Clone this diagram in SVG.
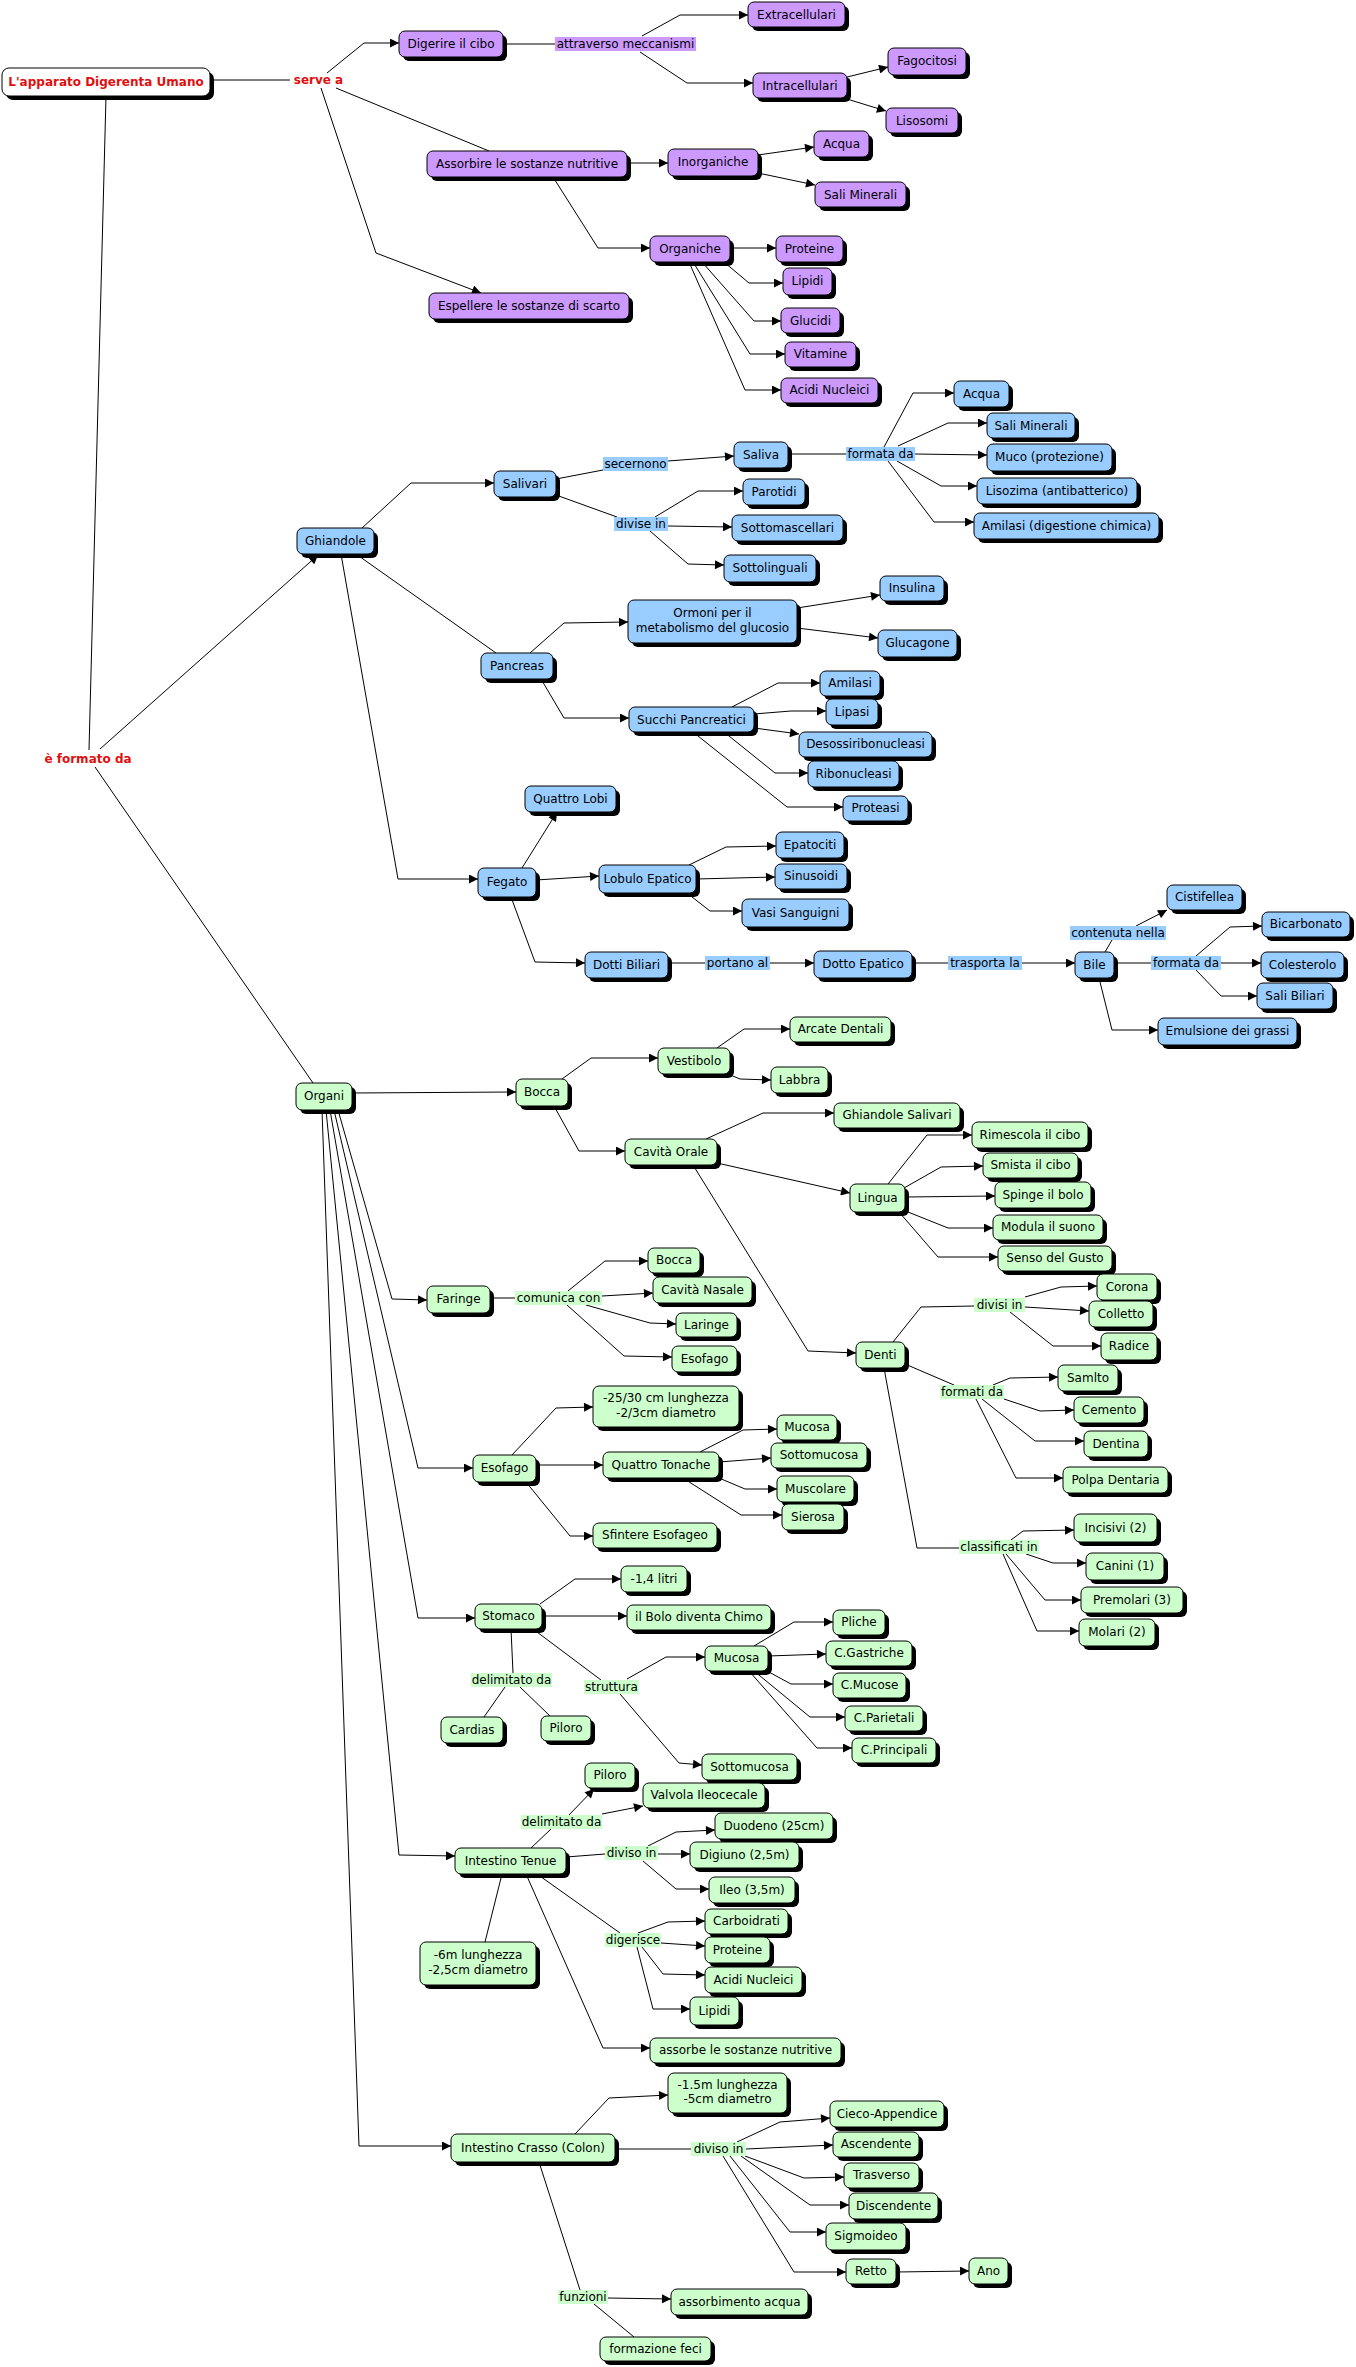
<svg xmlns="http://www.w3.org/2000/svg" width="1356" height="2367" viewBox="0 0 1356 2367">
<style>
text{font-family:"DejaVu Sans",Verdana,sans-serif;font-size:12px;text-anchor:middle;fill:#000}
.sh{fill:#000}
.w{fill:#fff;stroke:#000;stroke-width:1}
.p{fill:#CC99FF;stroke:#000;stroke-width:1}
.b{fill:#99CCFF;stroke:#000;stroke-width:1}
.g{fill:#CCFFCC;stroke:#000;stroke-width:1}
.lp{fill:#CC99FF}
.lb{fill:#99CCFF}
.lg{fill:#CCFFCC}
.red{fill:#E01010;font-weight:bold}
#connectors polyline{fill:none;stroke:#000;stroke-width:1}
#connectors .a{marker-end:url(#ar)}
</style>
<defs>
<marker id="ar" markerUnits="userSpaceOnUse" viewBox="0 0 10 10" markerWidth="10" markerHeight="9" refX="10" refY="5" orient="auto"><path d="M0,0 L10,5 L0,10 z" fill="#000"/></marker>
</defs>
<rect width="1356" height="2367" fill="#fff"/>
<g id="connectors">
<polyline points="214,80 290,80"/>
<polyline class="a" points="327,73 364,43 399,43"/>
<polyline points="336,88 489,151"/>
<polyline class="a" points="321,88 376,253 481,293"/>
<polyline points="503,44 555,44"/>
<polyline class="a" points="642,36 680,15 748,15"/>
<polyline class="a" points="640,52 687,83 753,83"/>
<polyline class="a" points="847,77 888,67"/>
<polyline class="a" points="847,99 886,111"/>
<polyline class="a" points="627,163 668,163"/>
<polyline class="a" points="553,177 598,248 650,248"/>
<polyline class="a" points="758,155 814,147"/>
<polyline class="a" points="758,173 815,185"/>
<polyline class="a" points="730,248 776,248"/>
<polyline class="a" points="724,262 749,283 783,283"/>
<polyline class="a" points="702,262 754,321 781,321"/>
<polyline class="a" points="693,262 750,354 785,354"/>
<polyline class="a" points="689,262 745,390 781,390"/>
<polyline points="106,96 89,750"/>
<polyline class="a" points="100,749 318,555"/>
<polyline points="95,767 313,1083"/>
<polyline class="a" points="362,528 411,483 494,483"/>
<polyline points="556,479 603,470"/>
<polyline class="a" points="668,461 734,456"/>
<polyline points="556,495 617,517"/>
<polyline class="a" points="655,517 698,491 743,491"/>
<polyline class="a" points="668,526 732,527"/>
<polyline class="a" points="650,531 688,564 724,565"/>
<polyline points="788,454 846,454"/>
<polyline class="a" points="884,447 913,393 954,393"/>
<polyline class="a" points="898,446 948,423 987,423"/>
<polyline class="a" points="915,454 987,455"/>
<polyline class="a" points="897,461 941,486 977,486"/>
<polyline class="a" points="888,461 934,522 974,522"/>
<polyline points="356,554 496,653"/>
<polyline class="a" points="530,653 564,623 628,622"/>
<polyline class="a" points="541,679 564,718 629,718"/>
<polyline class="a" points="797,608 880,595"/>
<polyline class="a" points="797,628 878,638"/>
<polyline class="a" points="732,707 778,683 820,683"/>
<polyline class="a" points="754,714 791,711 826,711"/>
<polyline class="a" points="754,728 799,734"/>
<polyline class="a" points="724,732 775,773 808,773"/>
<polyline class="a" points="693,732 787,807 843,807"/>
<polyline class="a" points="341,554 398,879 478,879"/>
<polyline class="a" points="522,868 557,812"/>
<polyline class="a" points="536,880 599,876"/>
<polyline class="a" points="511,897 535,962 585,963"/>
<polyline class="a" points="689,865 726,847 776,846"/>
<polyline class="a" points="696,879 775,877"/>
<polyline class="a" points="687,893 710,911 742,911"/>
<polyline points="668,963 705,963"/>
<polyline class="a" points="770,963 814,963"/>
<polyline points="912,963 948,963"/>
<polyline class="a" points="1022,963 1075,963"/>
<polyline points="1105,952 1112,940"/>
<polyline class="a" points="1136,926 1167,910"/>
<polyline points="1114,963 1151,963"/>
<polyline class="a" points="1221,963 1261,963"/>
<polyline class="a" points="1196,956 1230,927 1262,926"/>
<polyline class="a" points="1196,970 1221,996 1257,996"/>
<polyline class="a" points="1099,978 1112,1030 1158,1030"/>
<polyline class="a" points="352,1093 516,1092"/>
<polyline class="a" points="562,1079 591,1058 658,1058"/>
<polyline class="a" points="554,1106 579,1151 625,1151"/>
<polyline class="a" points="717,1048 744,1029 790,1029"/>
<polyline class="a" points="728,1074 740,1079 771,1080"/>
<polyline class="a" points="706,1139 763,1113 834,1113"/>
<polyline class="a" points="717,1163 850,1193"/>
<polyline class="a" points="888,1184 927,1135 972,1135"/>
<polyline class="a" points="904,1188 941,1167 983,1166"/>
<polyline class="a" points="905,1197 995,1196"/>
<polyline class="a" points="908,1212 948,1228 993,1228"/>
<polyline class="a" points="899,1212 938,1257 998,1257"/>
<polyline class="a" points="693,1165 808,1351 856,1353"/>
<polyline points="893,1342 921,1307 974,1306"/>
<polyline class="a" points="1025,1297 1061,1287 1097,1286"/>
<polyline class="a" points="1025,1307 1089,1311"/>
<polyline class="a" points="1010,1312 1053,1346 1101,1346"/>
<polyline points="905,1364 954,1385"/>
<polyline class="a" points="993,1385 1010,1378 1058,1377"/>
<polyline class="a" points="1004,1399 1040,1411 1074,1410"/>
<polyline class="a" points="982,1399 1035,1441 1084,1441"/>
<polyline class="a" points="976,1399 1016,1478 1063,1478"/>
<polyline points="884,1368 917,1548 959,1548"/>
<polyline class="a" points="1011,1540 1023,1531 1074,1530"/>
<polyline class="a" points="1026,1554 1053,1563 1086,1563"/>
<polyline class="a" points="1006,1554 1045,1600 1081,1600"/>
<polyline class="a" points="1003,1554 1037,1631 1079,1631"/>
<polyline class="a" points="338,1110 392,1299 427,1300"/>
<polyline points="490,1298 515,1298"/>
<polyline class="a" points="568,1291 605,1261 648,1261"/>
<polyline class="a" points="602,1296 653,1293"/>
<polyline class="a" points="586,1305 650,1323 676,1324"/>
<polyline class="a" points="567,1305 624,1356 672,1357"/>
<polyline class="a" points="334,1110 418,1468 473,1468"/>
<polyline class="a" points="512,1455 556,1408 593,1407"/>
<polyline class="a" points="536,1465 603,1465"/>
<polyline class="a" points="526,1482 570,1536 593,1536"/>
<polyline class="a" points="700,1452 743,1430 777,1429"/>
<polyline class="a" points="719,1462 771,1458"/>
<polyline class="a" points="719,1478 745,1489 777,1489"/>
<polyline class="a" points="683,1478 741,1515 782,1515"/>
<polyline class="a" points="330,1110 418,1618 475,1618"/>
<polyline class="a" points="540,1604 575,1579 621,1579"/>
<polyline class="a" points="542,1616 627,1616"/>
<polyline points="511,1629 513,1673"/>
<polyline points="505,1687 484,1717"/>
<polyline points="520,1687 550,1716"/>
<polyline points="533,1629 601,1680"/>
<polyline class="a" points="627,1679 666,1657 705,1657"/>
<polyline class="a" points="620,1694 679,1763 702,1765"/>
<polyline class="a" points="754,1646 794,1622 833,1622"/>
<polyline class="a" points="768,1656 826,1654"/>
<polyline class="a" points="767,1671 791,1684 833,1684"/>
<polyline class="a" points="754,1671 810,1717 845,1717"/>
<polyline class="a" points="749,1671 817,1748 852,1748"/>
<polyline class="a" points="326,1110 399,1855 455,1856"/>
<polyline points="531,1848 551,1829"/>
<polyline class="a" points="569,1815 594,1789"/>
<polyline class="a" points="602,1814 643,1806"/>
<polyline points="566,1857 605,1854"/>
<polyline class="a" points="648,1846 676,1832 715,1830"/>
<polyline class="a" points="658,1854 690,1854"/>
<polyline class="a" points="643,1861 676,1889 709,1889"/>
<polyline points="502,1874 485,1942"/>
<polyline points="537,1874 620,1933"/>
<polyline class="a" points="638,1933 668,1922 705,1921"/>
<polyline class="a" points="661,1943 705,1946"/>
<polyline class="a" points="642,1947 663,1974 705,1975"/>
<polyline class="a" points="637,1947 653,2009 690,2009"/>
<polyline class="a" points="526,1874 603,2048 650,2048"/>
<polyline class="a" points="322,1110 359,2146 451,2146"/>
<polyline class="a" points="575,2134 609,2098 668,2095"/>
<polyline points="615,2149 691,2149"/>
<polyline class="a" points="737,2142 780,2122 830,2118"/>
<polyline class="a" points="746,2149 833,2145"/>
<polyline class="a" points="745,2156 804,2178 844,2177"/>
<polyline class="a" points="741,2156 810,2205 849,2205"/>
<polyline class="a" points="730,2156 790,2232 826,2232"/>
<polyline class="a" points="723,2156 794,2272 846,2272"/>
<polyline class="a" points="896,2272 969,2271"/>
<polyline points="539,2162 580,2290"/>
<polyline class="a" points="608,2298 671,2299"/>
<polyline points="594,2304 634,2337"/>
</g>
<g id="labels">
<text class="red" x="318.5" y="84">serve a</text>
<text class="red" x="88" y="763">è formato da</text>
<g id="l-attraverso"><rect class="lp" x="555" y="37" width="141" height="14"/><text x="625.5" y="48">attraverso meccanismi</text></g>
<g id="l-secernono"><rect class="lb" x="603" y="457" width="65" height="14"/><text x="635.5" y="468">secernono</text></g>
<g id="l-divise"><rect class="lb" x="614" y="517" width="54" height="14"/><text x="641" y="528">divise in</text></g>
<g id="l-formata1"><rect class="lb" x="846" y="447" width="69" height="14"/><text x="880.5" y="458">formata da</text></g>
<g id="l-portano"><rect class="lb" x="705" y="956" width="65" height="14"/><text x="737.5" y="967">portano al</text></g>
<g id="l-trasporta"><rect class="lb" x="948" y="956" width="74" height="14"/><text x="985" y="967">trasporta la</text></g>
<g id="l-contenuta"><rect class="lb" x="1070" y="926" width="96" height="14"/><text x="1118" y="937">contenuta nella</text></g>
<g id="l-formata2"><rect class="lb" x="1151" y="956" width="70" height="14"/><text x="1186" y="967">formata da</text></g>
<g id="l-comunica"><rect class="lg" x="515" y="1291" width="87" height="14"/><text x="558.5" y="1302">comunica con</text></g>
<g id="l-divisi"><rect class="lg" x="974" y="1298" width="51" height="14"/><text x="999.5" y="1309">divisi in</text></g>
<g id="l-formati"><rect class="lg" x="940" y="1385" width="64" height="14"/><text x="972" y="1396">formati da</text></g>
<g id="l-classificati"><rect class="lg" x="959" y="1540" width="80" height="14"/><text x="999" y="1551">classificati in</text></g>
<g id="l-delimitato1"><rect class="lg" x="471" y="1673" width="81" height="14"/><text x="511.5" y="1684">delimitato da</text></g>
<g id="l-struttura"><rect class="lg" x="584" y="1680" width="55" height="14"/><text x="611.5" y="1691">struttura</text></g>
<g id="l-delimitato2"><rect class="lg" x="521" y="1815" width="81" height="14"/><text x="561.5" y="1826">delimitato da</text></g>
<g id="l-diviso1"><rect class="lg" x="605" y="1846" width="53" height="14"/><text x="631.5" y="1857">diviso in</text></g>
<g id="l-digerisce"><rect class="lg" x="605" y="1933" width="56" height="14"/><text x="633" y="1944">digerisce</text></g>
<g id="l-diviso2"><rect class="lg" x="691" y="2142" width="55" height="14"/><text x="718.5" y="2153">diviso in</text></g>
<g id="l-funzioni"><rect class="lg" x="558" y="2290" width="50" height="14"/><text x="583" y="2301">funzioni</text></g>
</g>
<g id="nodes">
<g id="root"><rect class="sh" x="6" y="72" width="208" height="28" rx="7"/><rect class="w" x="2" y="68" width="208" height="28" rx="7"/><text class="red" x="106" y="86">L'apparato Digerenta Umano</text></g>
<g id="digerire"><rect class="sh" x="403" y="35" width="104" height="26" rx="6"/><rect class="p" x="399" y="31" width="104" height="26" rx="6"/><text x="451" y="48">Digerire il cibo</text></g>
<g id="assorbire"><rect class="sh" x="431" y="155" width="200" height="26" rx="6"/><rect class="p" x="427" y="151" width="200" height="26" rx="6"/><text x="527" y="168">Assorbire le sostanze nutritive</text></g>
<g id="espellere"><rect class="sh" x="433" y="297" width="200" height="26" rx="6"/><rect class="p" x="429" y="293" width="200" height="26" rx="6"/><text x="529" y="310">Espellere le sostanze di scarto</text></g>
<g id="extracellulari"><rect class="sh" x="752" y="6" width="97" height="25" rx="6"/><rect class="p" x="748" y="2" width="97" height="25" rx="6"/><text x="796.5" y="19">Extracellulari</text></g>
<g id="intracellulari"><rect class="sh" x="757" y="77" width="94" height="25" rx="6"/><rect class="p" x="753" y="73" width="94" height="25" rx="6"/><text x="800" y="90">Intracellulari</text></g>
<g id="fagocitosi"><rect class="sh" x="892" y="52" width="78" height="27" rx="6"/><rect class="p" x="888" y="48" width="78" height="27" rx="6"/><text x="927" y="65">Fagocitosi</text></g>
<g id="lisosomi"><rect class="sh" x="890" y="112" width="72" height="25" rx="6"/><rect class="p" x="886" y="108" width="72" height="25" rx="6"/><text x="922" y="125">Lisosomi</text></g>
<g id="inorganiche"><rect class="sh" x="672" y="153" width="90" height="27" rx="6"/><rect class="p" x="668" y="149" width="90" height="27" rx="6"/><text x="713" y="166">Inorganiche</text></g>
<g id="acqua1"><rect class="sh" x="818" y="135" width="55" height="26" rx="6"/><rect class="p" x="814" y="131" width="55" height="26" rx="6"/><text x="841.5" y="148">Acqua</text></g>
<g id="sali1"><rect class="sh" x="819" y="186" width="91" height="25" rx="6"/><rect class="p" x="815" y="182" width="91" height="25" rx="6"/><text x="860.5" y="199">Sali Minerali</text></g>
<g id="organiche"><rect class="sh" x="654" y="240" width="80" height="26" rx="6"/><rect class="p" x="650" y="236" width="80" height="26" rx="6"/><text x="690" y="253">Organiche</text></g>
<g id="proteine1"><rect class="sh" x="780" y="240" width="67" height="26" rx="6"/><rect class="p" x="776" y="236" width="67" height="26" rx="6"/><text x="809.5" y="253">Proteine</text></g>
<g id="lipidi1"><rect class="sh" x="787" y="272" width="49" height="27" rx="6"/><rect class="p" x="783" y="268" width="49" height="27" rx="6"/><text x="807.5" y="285">Lipidi</text></g>
<g id="glucidi"><rect class="sh" x="785" y="312" width="59" height="25" rx="6"/><rect class="p" x="781" y="308" width="59" height="25" rx="6"/><text x="810.5" y="325">Glucidi</text></g>
<g id="vitamine"><rect class="sh" x="789" y="346" width="71" height="25" rx="6"/><rect class="p" x="785" y="342" width="71" height="25" rx="6"/><text x="820.5" y="358">Vitamine</text></g>
<g id="acidi1"><rect class="sh" x="785" y="382" width="97" height="25" rx="6"/><rect class="p" x="781" y="378" width="97" height="25" rx="6"/><text x="829.5" y="394">Acidi Nucleici</text></g>

<g id="ghiandole"><rect class="sh" x="301" y="532" width="77" height="26" rx="6"/><rect class="b" x="297" y="528" width="77" height="26" rx="6"/><text x="335.5" y="545">Ghiandole</text></g>
<g id="salivari"><rect class="sh" x="498" y="475" width="62" height="26" rx="6"/><rect class="b" x="494" y="471" width="62" height="26" rx="6"/><text x="525" y="488">Salivari</text></g>
<g id="saliva"><rect class="sh" x="738" y="446" width="54" height="26" rx="6"/><rect class="b" x="734" y="442" width="54" height="26" rx="6"/><text x="761" y="459">Saliva</text></g>
<g id="acqua2"><rect class="sh" x="958" y="385" width="55" height="26" rx="6"/><rect class="b" x="954" y="381" width="55" height="26" rx="6"/><text x="981.5" y="398">Acqua</text></g>
<g id="sali2"><rect class="sh" x="991" y="417" width="88" height="25" rx="6"/><rect class="b" x="987" y="413" width="88" height="25" rx="6"/><text x="1031" y="430">Sali Minerali</text></g>
<g id="muco"><rect class="sh" x="991" y="448" width="125" height="27" rx="6"/><rect class="b" x="987" y="444" width="125" height="27" rx="6"/><text x="1049.5" y="461">Muco (protezione)</text></g>
<g id="lisozima"><rect class="sh" x="981" y="482" width="160" height="26" rx="6"/><rect class="b" x="977" y="478" width="160" height="26" rx="6"/><text x="1057" y="495">Lisozima (antibatterico)</text></g>
<g id="amilasi1"><rect class="sh" x="978" y="517" width="185" height="26" rx="6"/><rect class="b" x="974" y="513" width="185" height="26" rx="6"/><text x="1066.5" y="530">Amilasi (digestione chimica)</text></g>
<g id="parotidi"><rect class="sh" x="747" y="483" width="62" height="26" rx="6"/><rect class="b" x="743" y="479" width="62" height="26" rx="6"/><text x="774" y="496">Parotidi</text></g>
<g id="sottomascellari"><rect class="sh" x="736" y="519" width="111" height="26" rx="6"/><rect class="b" x="732" y="515" width="111" height="26" rx="6"/><text x="787.5" y="532">Sottomascellari</text></g>
<g id="sottolinguali"><rect class="sh" x="728" y="559" width="92" height="27" rx="6"/><rect class="b" x="724" y="555" width="92" height="27" rx="6"/><text x="770" y="572">Sottolinguali</text></g>
<g id="pancreas"><rect class="sh" x="485" y="657" width="72" height="26" rx="6"/><rect class="b" x="481" y="653" width="72" height="26" rx="6"/><text x="517" y="670">Pancreas</text></g>
<g id="ormoni"><rect class="sh" x="632" y="604" width="169" height="43" rx="6"/><rect class="b" x="628" y="600" width="169" height="43" rx="6"/><text x="712.5" y="617">Ormoni per il</text><text x="712.5" y="632">metabolismo del glucosio</text></g>
<g id="insulina"><rect class="sh" x="884" y="580" width="64" height="25" rx="6"/><rect class="b" x="880" y="576" width="64" height="25" rx="6"/><text x="912" y="592">Insulina</text></g>
<g id="glucagone"><rect class="sh" x="882" y="634" width="79" height="27" rx="6"/><rect class="b" x="878" y="630" width="79" height="27" rx="6"/><text x="917.5" y="647">Glucagone</text></g>
<g id="succhi"><rect class="sh" x="633" y="711" width="125" height="25" rx="6"/><rect class="b" x="629" y="707" width="125" height="25" rx="6"/><text x="691.5" y="724">Succhi Pancreatici</text></g>
<g id="amilasi2"><rect class="sh" x="824" y="675" width="60" height="25" rx="6"/><rect class="b" x="820" y="671" width="60" height="25" rx="6"/><text x="850" y="687">Amilasi</text></g>
<g id="lipasi"><rect class="sh" x="830" y="703" width="52" height="26" rx="6"/><rect class="b" x="826" y="699" width="52" height="26" rx="6"/><text x="852" y="716">Lipasi</text></g>
<g id="desossi"><rect class="sh" x="803" y="736" width="133" height="25" rx="6"/><rect class="b" x="799" y="732" width="133" height="25" rx="6"/><text x="865.5" y="748">Desossiribonucleasi</text></g>
<g id="ribonucleasi"><rect class="sh" x="812" y="765" width="91" height="26" rx="6"/><rect class="b" x="808" y="761" width="91" height="26" rx="6"/><text x="853.5" y="778">Ribonucleasi</text></g>
<g id="proteasi"><rect class="sh" x="847" y="800" width="65" height="25" rx="6"/><rect class="b" x="843" y="796" width="65" height="25" rx="6"/><text x="875.5" y="812">Proteasi</text></g>
<g id="lobi"><rect class="sh" x="529" y="790" width="91" height="26" rx="6"/><rect class="b" x="525" y="786" width="91" height="26" rx="6"/><text x="570.5" y="803">Quattro Lobi</text></g>
<g id="fegato"><rect class="sh" x="482" y="872" width="58" height="29" rx="6"/><rect class="b" x="478" y="868" width="58" height="29" rx="6"/><text x="507" y="886">Fegato</text></g>
<g id="lobulo"><rect class="sh" x="603" y="869" width="97" height="28" rx="6"/><rect class="b" x="599" y="865" width="97" height="28" rx="6"/><text x="647.5" y="883">Lobulo Epatico</text></g>
<g id="epatociti"><rect class="sh" x="780" y="836" width="68" height="26" rx="6"/><rect class="b" x="776" y="832" width="68" height="26" rx="6"/><text x="810" y="849">Epatociti</text></g>
<g id="sinusoidi"><rect class="sh" x="779" y="868" width="72" height="25" rx="6"/><rect class="b" x="775" y="864" width="72" height="25" rx="6"/><text x="811" y="880">Sinusoidi</text></g>
<g id="vasi"><rect class="sh" x="746" y="903" width="107" height="28" rx="6"/><rect class="b" x="742" y="899" width="107" height="28" rx="6"/><text x="795.5" y="917">Vasi Sanguigni</text></g>
<g id="dotti"><rect class="sh" x="589" y="956" width="83" height="26" rx="6"/><rect class="b" x="585" y="952" width="83" height="26" rx="6"/><text x="626.5" y="969">Dotti Biliari</text></g>
<g id="dotto"><rect class="sh" x="818" y="955" width="98" height="27" rx="6"/><rect class="b" x="814" y="951" width="98" height="27" rx="6"/><text x="863" y="968">Dotto Epatico</text></g>
<g id="bile"><rect class="sh" x="1079" y="956" width="39" height="26" rx="6"/><rect class="b" x="1075" y="952" width="39" height="26" rx="6"/><text x="1094.5" y="969">Bile</text></g>
<g id="cistifellea"><rect class="sh" x="1171" y="889" width="75" height="25" rx="6"/><rect class="b" x="1167" y="885" width="75" height="25" rx="6"/><text x="1204.5" y="901">Cistifellea</text></g>
<g id="bicarbonato"><rect class="sh" x="1266" y="916" width="88" height="25" rx="6"/><rect class="b" x="1262" y="912" width="88" height="25" rx="6"/><text x="1306" y="928">Bicarbonato</text></g>
<g id="colesterolo"><rect class="sh" x="1265" y="956" width="83" height="26" rx="6"/><rect class="b" x="1261" y="952" width="83" height="26" rx="6"/><text x="1302.5" y="969">Colesterolo</text></g>
<g id="salibiliari"><rect class="sh" x="1261" y="987" width="76" height="26" rx="6"/><rect class="b" x="1257" y="983" width="76" height="26" rx="6"/><text x="1295" y="1000">Sali Biliari</text></g>
<g id="emulsione"><rect class="sh" x="1162" y="1022" width="139" height="27" rx="6"/><rect class="b" x="1158" y="1018" width="139" height="27" rx="6"/><text x="1227.5" y="1035">Emulsione dei grassi</text></g>

<g id="organi"><rect class="sh" x="300" y="1087" width="56" height="27" rx="6"/><rect class="g" x="296" y="1083" width="56" height="27" rx="6"/><text x="324" y="1100">Organi</text></g>
<g id="bocca1"><rect class="sh" x="520" y="1083" width="52" height="27" rx="6"/><rect class="g" x="516" y="1079" width="52" height="27" rx="6"/><text x="542" y="1096">Bocca</text></g>
<g id="vestibolo"><rect class="sh" x="662" y="1052" width="72" height="26" rx="6"/><rect class="g" x="658" y="1048" width="72" height="26" rx="6"/><text x="694" y="1065">Vestibolo</text></g>
<g id="arcate"><rect class="sh" x="794" y="1021" width="101" height="25" rx="6"/><rect class="g" x="790" y="1017" width="101" height="25" rx="6"/><text x="840.5" y="1033">Arcate Dentali</text></g>
<g id="labbra"><rect class="sh" x="775" y="1071" width="57" height="26" rx="6"/><rect class="g" x="771" y="1067" width="57" height="26" rx="6"/><text x="799.5" y="1084">Labbra</text></g>
<g id="cavitaorale"><rect class="sh" x="629" y="1143" width="92" height="26" rx="6"/><rect class="g" x="625" y="1139" width="92" height="26" rx="6"/><text x="671" y="1156">Cavità Orale</text></g>
<g id="ghsalivari"><rect class="sh" x="838" y="1107" width="126" height="25" rx="6"/><rect class="g" x="834" y="1103" width="126" height="25" rx="6"/><text x="897" y="1119">Ghiandole Salivari</text></g>
<g id="lingua"><rect class="sh" x="854" y="1188" width="55" height="28" rx="6"/><rect class="g" x="850" y="1184" width="55" height="28" rx="6"/><text x="877.5" y="1202">Lingua</text></g>
<g id="rimescola"><rect class="sh" x="976" y="1126" width="116" height="26" rx="6"/><rect class="g" x="972" y="1122" width="116" height="26" rx="6"/><text x="1030" y="1139">Rimescola il cibo</text></g>
<g id="smista"><rect class="sh" x="987" y="1157" width="95" height="25" rx="6"/><rect class="g" x="983" y="1153" width="95" height="25" rx="6"/><text x="1030.5" y="1169">Smista il cibo</text></g>
<g id="spinge"><rect class="sh" x="999" y="1186" width="96" height="26" rx="6"/><rect class="g" x="995" y="1182" width="96" height="26" rx="6"/><text x="1043" y="1199">Spinge il bolo</text></g>
<g id="modula"><rect class="sh" x="997" y="1219" width="110" height="25" rx="6"/><rect class="g" x="993" y="1215" width="110" height="25" rx="6"/><text x="1048" y="1231">Modula il suono</text></g>
<g id="gusto"><rect class="sh" x="1002" y="1250" width="114" height="25" rx="6"/><rect class="g" x="998" y="1246" width="114" height="25" rx="6"/><text x="1055" y="1262">Senso del Gusto</text></g>
<g id="denti"><rect class="sh" x="860" y="1346" width="49" height="26" rx="6"/><rect class="g" x="856" y="1342" width="49" height="26" rx="6"/><text x="880.5" y="1359">Denti</text></g>
<g id="corona"><rect class="sh" x="1101" y="1278" width="60" height="26" rx="6"/><rect class="g" x="1097" y="1274" width="60" height="26" rx="6"/><text x="1127" y="1291">Corona</text></g>
<g id="colletto"><rect class="sh" x="1093" y="1305" width="64" height="26" rx="6"/><rect class="g" x="1089" y="1301" width="64" height="26" rx="6"/><text x="1121" y="1318">Colletto</text></g>
<g id="radice"><rect class="sh" x="1105" y="1337" width="56" height="27" rx="6"/><rect class="g" x="1101" y="1333" width="56" height="27" rx="6"/><text x="1129" y="1350">Radice</text></g>
<g id="samlto"><rect class="sh" x="1062" y="1369" width="60" height="26" rx="6"/><rect class="g" x="1058" y="1365" width="60" height="26" rx="6"/><text x="1088" y="1382">Samlto</text></g>
<g id="cemento"><rect class="sh" x="1078" y="1401" width="70" height="26" rx="6"/><rect class="g" x="1074" y="1397" width="70" height="26" rx="6"/><text x="1109" y="1414">Cemento</text></g>
<g id="dentina"><rect class="sh" x="1088" y="1435" width="64" height="26" rx="6"/><rect class="g" x="1084" y="1431" width="64" height="26" rx="6"/><text x="1116" y="1448">Dentina</text></g>
<g id="polpa"><rect class="sh" x="1067" y="1471" width="105" height="26" rx="6"/><rect class="g" x="1063" y="1467" width="105" height="26" rx="6"/><text x="1115.5" y="1484">Polpa Dentaria</text></g>
<g id="incisivi"><rect class="sh" x="1078" y="1518" width="83" height="28" rx="6"/><rect class="g" x="1074" y="1514" width="83" height="28" rx="6"/><text x="1115.5" y="1532">Incisivi (2)</text></g>
<g id="canini"><rect class="sh" x="1090" y="1557" width="78" height="27" rx="6"/><rect class="g" x="1086" y="1553" width="78" height="27" rx="6"/><text x="1125" y="1570">Canini (1)</text></g>
<g id="premolari"><rect class="sh" x="1085" y="1591" width="102" height="26" rx="6"/><rect class="g" x="1081" y="1587" width="102" height="26" rx="6"/><text x="1132" y="1604">Premolari (3)</text></g>
<g id="molari"><rect class="sh" x="1083" y="1623" width="76" height="27" rx="6"/><rect class="g" x="1079" y="1619" width="76" height="27" rx="6"/><text x="1117" y="1636">Molari (2)</text></g>
<g id="faringe"><rect class="sh" x="431" y="1290" width="63" height="27" rx="6"/><rect class="g" x="427" y="1286" width="63" height="27" rx="6"/><text x="458.5" y="1303">Faringe</text></g>
<g id="bocca2"><rect class="sh" x="652" y="1252" width="52" height="25" rx="6"/><rect class="g" x="648" y="1248" width="52" height="25" rx="6"/><text x="674" y="1264">Bocca</text></g>
<g id="nasale"><rect class="sh" x="657" y="1281" width="99" height="26" rx="6"/><rect class="g" x="653" y="1277" width="99" height="26" rx="6"/><text x="702.5" y="1294">Cavità Nasale</text></g>
<g id="laringe"><rect class="sh" x="680" y="1317" width="61" height="24" rx="6"/><rect class="g" x="676" y="1313" width="61" height="24" rx="6"/><text x="706.5" y="1329">Laringe</text></g>
<g id="esofago2"><rect class="sh" x="676" y="1350" width="65" height="26" rx="6"/><rect class="g" x="672" y="1346" width="65" height="26" rx="6"/><text x="704.5" y="1363">Esofago</text></g>
<g id="misure-esofago"><rect class="sh" x="597" y="1390" width="146" height="41" rx="6"/><rect class="g" x="593" y="1386" width="146" height="41" rx="6"/><text x="666" y="1402">-25/30 cm lunghezza</text><text x="666" y="1417">-2/3cm diametro</text></g>
<g id="esofago"><rect class="sh" x="477" y="1459" width="63" height="27" rx="6"/><rect class="g" x="473" y="1455" width="63" height="27" rx="6"/><text x="504.5" y="1472">Esofago</text></g>
<g id="tonache"><rect class="sh" x="607" y="1456" width="116" height="26" rx="6"/><rect class="g" x="603" y="1452" width="116" height="26" rx="6"/><text x="661" y="1469">Quattro Tonache</text></g>
<g id="sfintere"><rect class="sh" x="597" y="1527" width="124" height="25" rx="6"/><rect class="g" x="593" y="1523" width="124" height="25" rx="6"/><text x="655" y="1539">Sfintere Esofageo</text></g>
<g id="mucosa1"><rect class="sh" x="781" y="1419" width="60" height="25" rx="6"/><rect class="g" x="777" y="1415" width="60" height="25" rx="6"/><text x="807" y="1431">Mucosa</text></g>
<g id="sottomucosa1"><rect class="sh" x="775" y="1447" width="96" height="25" rx="6"/><rect class="g" x="771" y="1443" width="96" height="25" rx="6"/><text x="819" y="1459">Sottomucosa</text></g>
<g id="muscolare"><rect class="sh" x="781" y="1480" width="77" height="26" rx="6"/><rect class="g" x="777" y="1476" width="77" height="26" rx="6"/><text x="815.5" y="1493">Muscolare</text></g>
<g id="sierosa"><rect class="sh" x="786" y="1508" width="62" height="26" rx="6"/><rect class="g" x="782" y="1504" width="62" height="26" rx="6"/><text x="813" y="1521">Sierosa</text></g>
<g id="litri"><rect class="sh" x="625" y="1570" width="66" height="26" rx="6"/><rect class="g" x="621" y="1566" width="66" height="26" rx="6"/><text x="654" y="1583">-1,4 litri</text></g>
<g id="stomaco"><rect class="sh" x="479" y="1608" width="67" height="25" rx="6"/><rect class="g" x="475" y="1604" width="67" height="25" rx="6"/><text x="508.5" y="1620">Stomaco</text></g>
<g id="bolo"><rect class="sh" x="631" y="1609" width="144" height="25" rx="6"/><rect class="g" x="627" y="1605" width="144" height="25" rx="6"/><text x="699" y="1621">il Bolo diventa Chimo</text></g>
<g id="cardias"><rect class="sh" x="445" y="1721" width="62" height="26" rx="6"/><rect class="g" x="441" y="1717" width="62" height="26" rx="6"/><text x="472" y="1734">Cardias</text></g>
<g id="piloro1"><rect class="sh" x="545" y="1720" width="50" height="25" rx="6"/><rect class="g" x="541" y="1716" width="50" height="25" rx="6"/><text x="566" y="1732">Piloro</text></g>
<g id="mucosa2"><rect class="sh" x="709" y="1650" width="63" height="25" rx="6"/><rect class="g" x="705" y="1646" width="63" height="25" rx="6"/><text x="736.5" y="1662">Mucosa</text></g>
<g id="pliche"><rect class="sh" x="837" y="1614" width="52" height="25" rx="6"/><rect class="g" x="833" y="1610" width="52" height="25" rx="6"/><text x="859" y="1626">Pliche</text></g>
<g id="gastriche"><rect class="sh" x="830" y="1645" width="86" height="25" rx="6"/><rect class="g" x="826" y="1641" width="86" height="25" rx="6"/><text x="869" y="1657">C.Gastriche</text></g>
<g id="cmucose"><rect class="sh" x="837" y="1677" width="73" height="25" rx="6"/><rect class="g" x="833" y="1673" width="73" height="25" rx="6"/><text x="869.5" y="1689">C.Mucose</text></g>
<g id="parietali"><rect class="sh" x="849" y="1710" width="78" height="25" rx="6"/><rect class="g" x="845" y="1706" width="78" height="25" rx="6"/><text x="884" y="1722">C.Parietali</text></g>
<g id="principali"><rect class="sh" x="856" y="1742" width="84" height="25" rx="6"/><rect class="g" x="852" y="1738" width="84" height="25" rx="6"/><text x="894" y="1754">C.Principali</text></g>
<g id="sottomucosa2"><rect class="sh" x="706" y="1758" width="95" height="26" rx="6"/><rect class="g" x="702" y="1754" width="95" height="26" rx="6"/><text x="749.5" y="1771">Sottomucosa</text></g>
<g id="piloro2"><rect class="sh" x="589" y="1767" width="50" height="25" rx="6"/><rect class="g" x="585" y="1763" width="50" height="25" rx="6"/><text x="610" y="1779">Piloro</text></g>
<g id="valvola"><rect class="sh" x="647" y="1787" width="122" height="25" rx="6"/><rect class="g" x="643" y="1783" width="122" height="25" rx="6"/><text x="704" y="1799">Valvola Ileocecale</text></g>
<g id="tenue"><rect class="sh" x="459" y="1852" width="111" height="26" rx="6"/><rect class="g" x="455" y="1848" width="111" height="26" rx="6"/><text x="510.5" y="1865">Intestino Tenue</text></g>
<g id="duodeno"><rect class="sh" x="719" y="1817" width="118" height="26" rx="6"/><rect class="g" x="715" y="1813" width="118" height="26" rx="6"/><text x="774" y="1830">Duodeno (25cm)</text></g>
<g id="digiuno"><rect class="sh" x="694" y="1846" width="109" height="26" rx="6"/><rect class="g" x="690" y="1842" width="109" height="26" rx="6"/><text x="744.5" y="1859">Digiuno (2,5m)</text></g>
<g id="ileo"><rect class="sh" x="713" y="1881" width="86" height="26" rx="6"/><rect class="g" x="709" y="1877" width="86" height="26" rx="6"/><text x="752" y="1894">Ileo (3,5m)</text></g>
<g id="carboidrati"><rect class="sh" x="709" y="1913" width="83" height="25" rx="6"/><rect class="g" x="705" y="1909" width="83" height="25" rx="6"/><text x="746.5" y="1925">Carboidrati</text></g>
<g id="proteine2"><rect class="sh" x="709" y="1941" width="65" height="26" rx="6"/><rect class="g" x="705" y="1937" width="65" height="26" rx="6"/><text x="737.5" y="1954">Proteine</text></g>
<g id="acidi2"><rect class="sh" x="709" y="1971" width="97" height="26" rx="6"/><rect class="g" x="705" y="1967" width="97" height="26" rx="6"/><text x="753.5" y="1984">Acidi Nucleici</text></g>
<g id="lipidi2"><rect class="sh" x="694" y="2001" width="49" height="28" rx="6"/><rect class="g" x="690" y="1997" width="49" height="28" rx="6"/><text x="714.5" y="2015">Lipidi</text></g>
<g id="misure-tenue"><rect class="sh" x="424" y="1946" width="116" height="43" rx="6"/><rect class="g" x="420" y="1942" width="116" height="43" rx="6"/><text x="478" y="1959">-6m lunghezza</text><text x="478" y="1974">-2,5cm diametro</text></g>
<g id="assorbe"><rect class="sh" x="654" y="2042" width="191" height="25" rx="6"/><rect class="g" x="650" y="2038" width="191" height="25" rx="6"/><text x="745.5" y="2054">assorbe le sostanze nutritive</text></g>
<g id="misure-crasso"><rect class="sh" x="672" y="2077" width="119" height="40" rx="6"/><rect class="g" x="668" y="2073" width="119" height="40" rx="6"/><text x="727.5" y="2089">-1.5m lunghezza</text><text x="727.5" y="2103">-5cm diametro</text></g>
<g id="crasso"><rect class="sh" x="455" y="2138" width="164" height="28" rx="6"/><rect class="g" x="451" y="2134" width="164" height="28" rx="6"/><text x="533" y="2152">Intestino Crasso (Colon)</text></g>
<g id="cieco"><rect class="sh" x="834" y="2105" width="114" height="26" rx="6"/><rect class="g" x="830" y="2101" width="114" height="26" rx="6"/><text x="887" y="2118">Cieco-Appendice</text></g>
<g id="ascendente"><rect class="sh" x="837" y="2136" width="86" height="25" rx="6"/><rect class="g" x="833" y="2132" width="86" height="25" rx="6"/><text x="876" y="2148">Ascendente</text></g>
<g id="trasverso"><rect class="sh" x="848" y="2167" width="75" height="25" rx="6"/><rect class="g" x="844" y="2163" width="75" height="25" rx="6"/><text x="881.5" y="2179">Trasverso</text></g>
<g id="discendente"><rect class="sh" x="853" y="2197" width="89" height="26" rx="6"/><rect class="g" x="849" y="2193" width="89" height="26" rx="6"/><text x="893.5" y="2210">Discendente</text></g>
<g id="sigmoideo"><rect class="sh" x="830" y="2227" width="80" height="27" rx="6"/><rect class="g" x="826" y="2223" width="80" height="27" rx="6"/><text x="866" y="2240">Sigmoideo</text></g>
<g id="retto"><rect class="sh" x="850" y="2263" width="50" height="25" rx="6"/><rect class="g" x="846" y="2259" width="50" height="25" rx="6"/><text x="871" y="2275">Retto</text></g>
<g id="ano"><rect class="sh" x="973" y="2262" width="39" height="26" rx="6"/><rect class="g" x="969" y="2258" width="39" height="26" rx="6"/><text x="988.5" y="2275">Ano</text></g>
<g id="acqua3"><rect class="sh" x="675" y="2293" width="137" height="26" rx="6"/><rect class="g" x="671" y="2289" width="137" height="26" rx="6"/><text x="739.5" y="2306">assorbimento acqua</text></g>
<g id="feci"><rect class="sh" x="604" y="2341" width="111" height="24" rx="6"/><rect class="g" x="600" y="2337" width="111" height="24" rx="6"/><text x="655.5" y="2353">formazione feci</text></g>
</g>
</svg>
